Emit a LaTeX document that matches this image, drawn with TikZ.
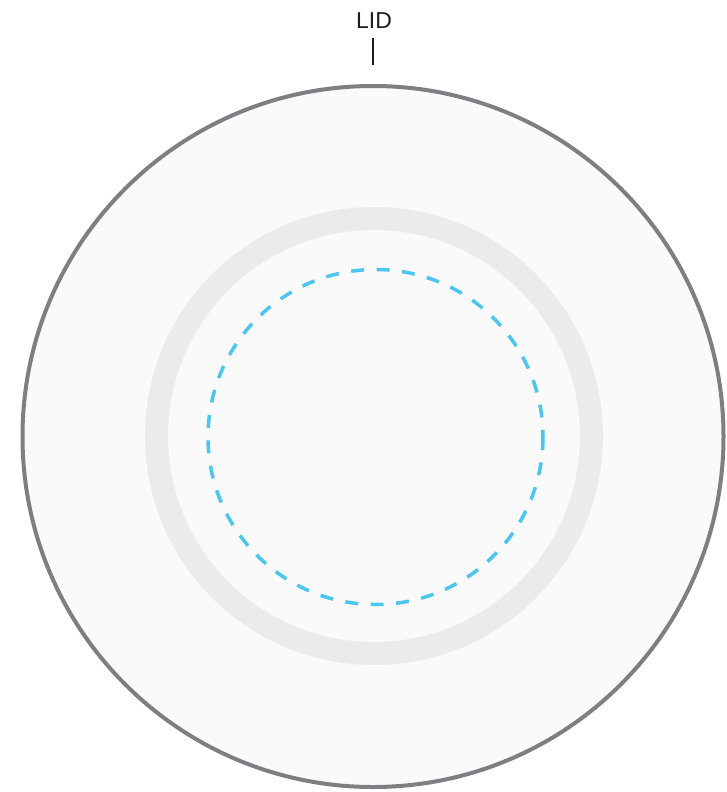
\documentclass[tikz,border=0pt]{standalone}
\usepackage{fontspec}
\setmainfont{Liberation Sans}
\definecolor{outerc}{HTML}{7F7F83}
\definecolor{fillc}{HTML}{FAFAFA}
\definecolor{ringc}{HTML}{EBEBEB}
\definecolor{dashc}{HTML}{4CC6F0}
\definecolor{textc}{HTML}{1E1E1E}
\begin{document}
\begin{tikzpicture}[x=1pt,y=-1pt,
  lidlabel/.style={font=\fontsize{23}{27}\selectfont, text=textc, anchor=base, inner sep=0pt},
  outerdisc/.style={draw=outerc, line width=4pt, fill=fillc},
  grayring/.style={draw=ringc, line width=23pt},
  dashring/.style={draw=dashc, line width=3.5pt, dash pattern=on 13pt off 12.5pt}]
\useasboundingbox (0,0) rectangle (726,792);
\fill[white] (0,0) rectangle (726,792);
\draw[outerdisc] (373,436.5) circle[radius=350.5];
\draw[grayring] (374,436) circle[radius=217.5];
\draw[dashring] (375.5,437) circle[radius=167.5];
\node[lidlabel] (lid) at (374,29) {LID};
\coordinate (tickTop) at (373,38);
\coordinate (tickBot) at (373,65);
\draw[textc, line width=1.5pt] (tickTop) -- (tickBot);
\end{tikzpicture}
\end{document}
